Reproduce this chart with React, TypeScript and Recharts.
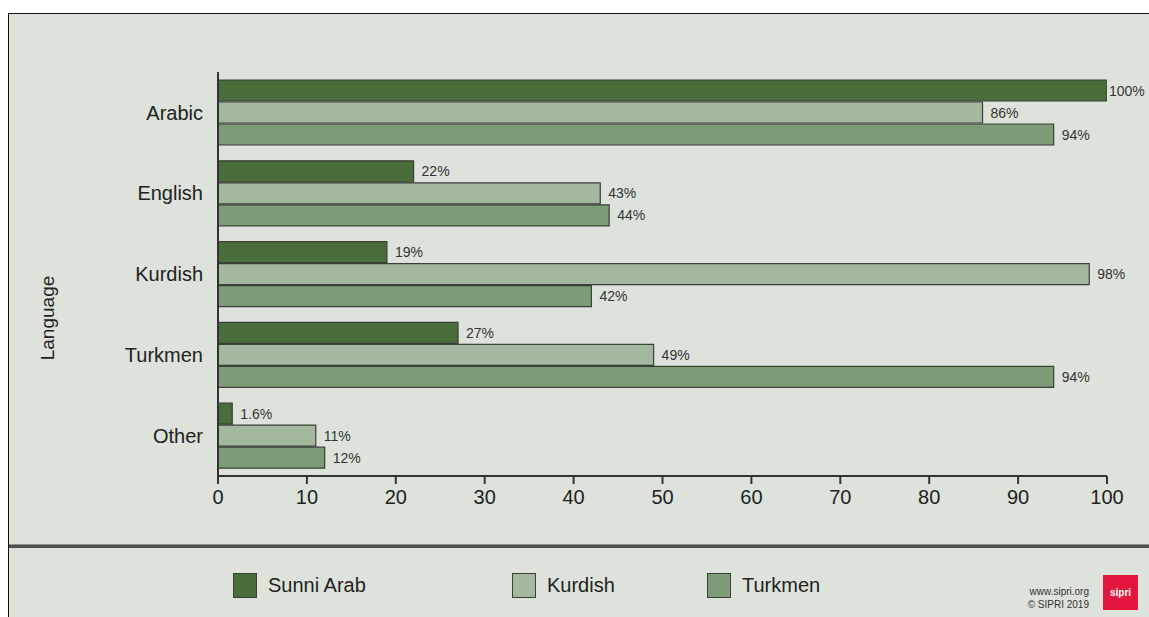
import { BarChart, Bar, XAxis, YAxis, LabelList } from 'recharts';

const languages = ['Arabic', 'English', 'Kurdish', 'Turkmen', 'Other'];
const sunniArab = [100, 22, 19, 27, 1.6];
const kurdish = [86, 43, 98, 49, 11];
const turkmen = [94, 44, 42, 94, 12];
const xTicks = [0, 10, 20, 30, 40, 50, 60, 70, 80, 90, 100];

const series = [
  { key: 'Sunni Arab', values: sunniArab, color: '#4a6d3c' },
  { key: 'Kurdish', values: kurdish, color: '#a4b89f' },
  { key: 'Turkmen', values: turkmen, color: '#7e9b78' },
];

// legend swatch positions follow the original's uneven spacing
const legendLeft = [224, 503, 698];

const FONT = '"Liberation Sans", Arial, sans-serif';
const PANEL_BG = '#dde3db';

// value label to the right of a bar; the full-width bar gets a tighter gap
function ValueLabel(props: any) {
  const { x, y, width, height, value } = props;
  const gap = value >= 100 ? 2 : 8;
  return (
    <text
      x={x + width + gap}
      y={y + height / 2}
      dominantBaseline="central"
      fill="#333"
      fontSize={14}
      fontFamily={FONT}
    >
      {`${value}%`}
    </text>
  );
}

export default function App() {
  const data = languages.map((name, i) => {
    const row: Record<string, string | number> = { name };
    series.forEach((s) => {
      row[s.key] = s.values[i];
    });
    return row;
  });

  return (
    <div
      style={{
        position: 'fixed',
        left: 8,
        top: 13,
        right: 0,
        bottom: 0,
        boxSizing: 'border-box',
        borderTop: '1px solid #111',
        borderLeft: '1px solid #111',
        background: PANEL_BG,
        fontFamily: FONT,
        overflow: 'hidden',
      }}
    >
      <BarChart
        width={1140}
        height={530}
        data={data}
        layout="vertical"
        margin={{ top: 58, right: 42, bottom: 28, left: 0 }}
        barCategoryGap={8}
        barGap={1}
      >
        <XAxis
          type="number"
          domain={[0, 100]}
          ticks={xTicks}
          allowDataOverflow
          height={40}
          tickSize={8}
          tickMargin={6}
          stroke="#333"
          strokeWidth={2}
          tick={{ fill: '#222', fontSize: 20, fontFamily: FONT }}
        />
        <YAxis
          type="category"
          dataKey="name"
          width={209}
          tickLine={false}
          tickSize={0}
          tickMargin={15}
          stroke="#333"
          strokeWidth={2}
          tick={{ fill: '#222', fontSize: 20, fontFamily: FONT }}
          label={{
            content: (props: any) => {
              const vb = props.viewBox || {};
              const x = (vb.x || 0) + 38;
              const y = (vb.y || 0) + (vb.height || 0) / 2 + 44;
              return (
                <text
                  x={x}
                  y={y}
                  transform={`rotate(-90 ${x} ${y})`}
                  textAnchor="middle"
                  dominantBaseline="central"
                  fill="#222"
                  fontSize={19}
                  fontFamily={FONT}
                >
                  Language
                </text>
              );
            },
          }}
        />
        {series.map((s) => (
          <Bar
            key={s.key}
            dataKey={s.key}
            fill={s.color}
            stroke="#3a3f38"
            strokeWidth={1.2}
            isAnimationActive={false}
          >
            <LabelList dataKey={s.key} content={<ValueLabel />} />
          </Bar>
        ))}
      </BarChart>

      <div style={{ height: 3, background: '#4b524b', borderTop: '1px solid #8a938a' }} />

      <div style={{ position: 'relative', height: 66 }}>
        {series.map((s, i) => (
          <div
            key={s.key}
            style={{
              position: 'absolute',
              left: legendLeft[i],
              top: 25,
              display: 'flex',
              alignItems: 'center',
            }}
          >
            <div
              style={{
                width: 24,
                height: 25,
                background: s.color,
                border: '1px solid #3a3f38',
                boxSizing: 'border-box',
              }}
            />
            <span style={{ marginLeft: 11, fontSize: 20, color: '#222' }}>{s.key}</span>
          </div>
        ))}
        <div
          style={{
            position: 'absolute',
            left: 980,
            width: 100,
            top: 37,
            textAlign: 'right',
            fontSize: 10,
            lineHeight: '13px',
            color: '#333',
          }}
        >
          <div>www.sipri.org</div>
          <div>© SIPRI 2019</div>
        </div>
        <div
          style={{
            position: 'absolute',
            left: 1094,
            top: 27,
            width: 35,
            height: 35,
            background: '#e3173e',
            color: '#fff',
            fontSize: 10,
            fontWeight: 'bold',
            display: 'flex',
            alignItems: 'center',
            justifyContent: 'center',
          }}
        >
          sipri
        </div>
      </div>
    </div>
  );
}
